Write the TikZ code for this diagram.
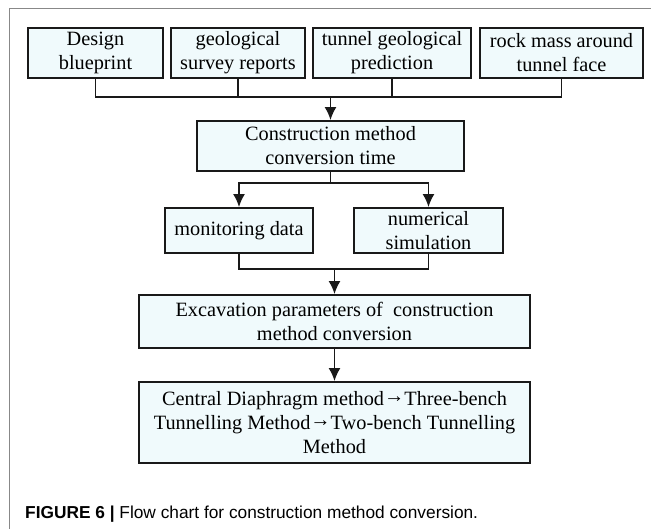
\documentclass[tikz,border=0pt]{standalone}
\usepackage{fontspec}
\setmainfont{Liberation Serif}
\newfontfamily\capfont{Liberation Sans}
\usepackage{tikz}
\usetikzlibrary{arrows.meta}
\definecolor{boxfill}{RGB}{240,250,252}
\definecolor{framegray}{RGB}{136,136,136}
\newcommand{\thento}{\raisebox{0.3ex}{→}}
\tikzstyle{block}=[rectangle,
line width=1.8pt,
draw=black!90,
fill=boxfill,
inner sep=0pt,
align=center,
font=\fontsize{20.3}{24}\selectfont]
\tikzstyle{link}=[line width=1.8pt,
draw=black!90]

\begin{document}
\begin{tikzpicture}[x=1pt,y=-1pt,>={Latex[length=13pt,width=12pt]}]
	% page frame and size
	\useasboundingbox (0,0) rectangle (651,529);
	\draw[framegray,line width=0.9pt] (9,529) -- (9,8) -- (651,8);
	
	% First line: the four sources
	\node (design)  [block,minimum width=135pt,minimum height=50pt] at (95.5,53) {Design\\blueprint};
	\node (survey)  [block,minimum width=134pt,minimum height=50pt] at (238,53) {geological\\survey reports};
	\node (predict) [block,minimum width=158pt,minimum height=50pt] at (392,53) {tunnel geological\\prediction};
	\node (rock)    [block,minimum width=163pt,minimum height=50pt] at (561.5,53) {rock mass around\\tunnel face};
	% Second line: conversion time
	\node (cmtime)  [block,minimum width=267pt,minimum height=50pt] at (330.5,146) {Construction method\\conversion time};
	% Third line: data and simulation
	\node (monitor) [block,minimum width=148pt,minimum height=45pt] at (239,230.5) {monitoring data};
	\node (numer)   [block,minimum width=149pt,minimum height=45pt] at (428.5,230.5) {numerical\\simulation};
	% Fourth and fifth line
	\node (excav)   [block,minimum width=391pt,minimum height=53pt] at (334.5,321.5) {Excavation parameters of~ construction\\method conversion};
	\node (final)   [block,minimum width=391pt,minimum height=81pt] at (334.5,422.5) {Central Diaphragm method\thento Three-bench\\Tunnelling Method\thento Two-bench Tunnelling\\Method};
	
	% joints of the connectors
	\path (cmtime.north) ++(0,-23) coordinate (join1);
	\path (cmtime.south) ++(0,11) coordinate (split);
	\path (excav.north) ++(0,-25) coordinate (merge);
	
	% The diagram elements are now connected through arrows:
	\draw[link] (design.south) |- (join1) -| (rock.south);
	\draw[link] (survey.south) -- (survey.south |- join1);
	\draw[link] (predict.south) -- (predict.south |- join1);
	\draw[link,->] (join1) -- (cmtime.north);
	\draw[link] (cmtime.south) -- (split);
	\draw[link,->] (split) -| (monitor.north);
	\draw[link,->] (split) -| (numer.north);
	\draw[link] (monitor.south) |- (merge) -| (numer.south);
	\draw[link,->] (merge) -- (excav.north);
	\draw[link,->] (excav.south) -- (final.north);
	
	% caption
	\node (caption) [anchor=base west,inner sep=0pt,font=\capfont\fontsize{17.3}{20}\selectfont] at (25,518)
	{\textbf{FIGURE 6 |} Flow chart for construction method conversion.};
\end{tikzpicture}
\end{document}
